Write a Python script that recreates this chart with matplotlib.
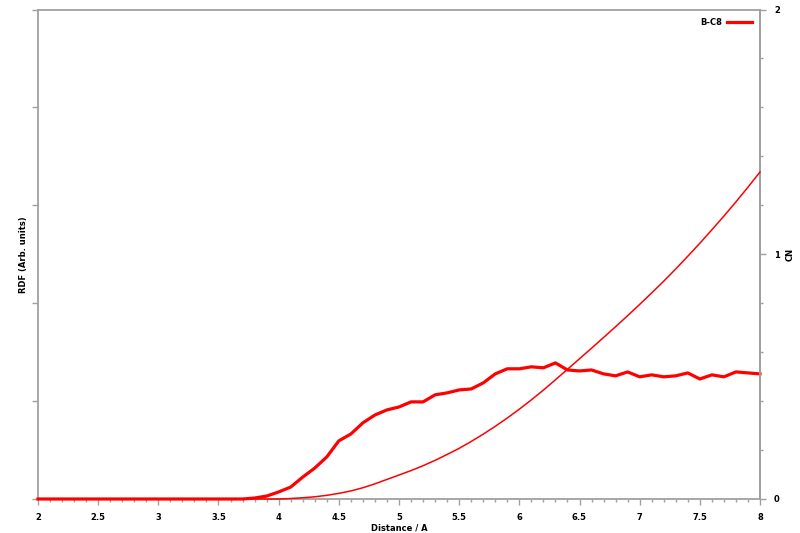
import numpy as np
import matplotlib
matplotlib.use("Agg")
import matplotlib.pyplot as plt
from matplotlib.ticker import MultipleLocator

# distance grid (A)
distance = np.linspace(2.0, 8.0, 61)

# RDF, arbitrary units (left axis)
rdf = [0.0] * 18 + [
    0.005, 0.015, 0.036, 0.061, 0.112, 0.158, 0.215, 0.297, 0.332, 0.389,
    0.429, 0.455, 0.470, 0.496, 0.496, 0.532, 0.542, 0.557, 0.562, 0.593,
    0.639, 0.665, 0.665, 0.675, 0.670, 0.695, 0.659, 0.654, 0.659, 0.639,
    0.629, 0.649, 0.624, 0.634, 0.624, 0.629, 0.644, 0.613, 0.634, 0.624,
    0.649, 0.644, 0.639,
]

# coordination number (right axis)
cn = [0.0] * 20 + [
    0.000, 0.002, 0.005, 0.009, 0.015, 0.023, 0.033, 0.046, 0.062, 0.080,
    0.098, 0.116, 0.136, 0.158, 0.182, 0.207, 0.235, 0.265, 0.297, 0.331,
    0.367, 0.405, 0.445, 0.487, 0.530, 0.573, 0.616, 0.660, 0.704, 0.749,
    0.795, 0.842, 0.890, 0.940, 0.992, 1.045, 1.100, 1.156, 1.214, 1.274,
    1.336,
]

series_label = "B-C8"
GREY = "#a0a0a0"
RED = "#ff0000"
FONT = dict(family="DejaVu Sans", fontweight="bold", fontsize=6)

fig = plt.figure(figsize=(8, 5.33), dpi=100)
ax = fig.add_axes([38 / 800, 34 / 533, 722 / 800, 489.5 / 533])
ax2 = ax.twinx()

ax.plot(distance, rdf, color=RED, lw=2.3, label=series_label, zorder=3, clip_on=False)
ax2.plot(distance, cn, color=RED, lw=1.1, zorder=3, clip_on=False)

ax.set_xlim(2, 8)
ax.set_ylim(0, 2.5)
ax2.set_ylim(0, 2)

for s in ax.spines.values():
    s.set_color(GREY)
    s.set_linewidth(1.3)
for name, s in ax2.spines.items():
    s.set_visible(name == "right")
    s.set_color(GREY)
    s.set_linewidth(1.3)

ax.xaxis.set_major_locator(MultipleLocator(0.5))
ax.xaxis.set_minor_locator(MultipleLocator(0.1))
ax.yaxis.set_major_locator(MultipleLocator(0.5))
ax.set_yticklabels([])
ax2.yaxis.set_major_locator(MultipleLocator(1))
ax2.yaxis.set_minor_locator(MultipleLocator(0.2))

ax.tick_params(axis="x", which="major", direction="out", length=4, width=1, color=GREY, pad=6)
ax.tick_params(axis="x", which="minor", direction="out", length=2.5, width=1, color=GREY)
ax.tick_params(axis="y", which="major", direction="out", length=4, width=1, color=GREY)
ax2.tick_params(axis="y", which="major", direction="out", length=4, width=1, color=GREY, pad=6)
ax2.tick_params(axis="y", which="minor", direction="out", length=2.5, width=1, color=GREY)

ax.set_xticks(np.arange(2, 8.01, 0.5))
ax.set_xticklabels(["2", "2.5", "3", "3.5", "4", "4.5", "5", "5.5", "6", "6.5", "7", "7.5", "8"], **FONT)
ax2.set_yticks([0, 1, 2])
ax2.set_yticklabels(["0", "1", "2"], **FONT)

ax.set_xlabel("Distance / A", labelpad=1, **FONT)
ax.set_ylabel("RDF (Arb. units)", labelpad=0, **FONT)
ax2.set_ylabel("CN", labelpad=4, **FONT)

leg = ax.legend(loc="upper right", frameon=False, markerfirst=False,
                prop=dict(family="DejaVu Sans", weight="bold", size=6),
                handlelength=3.0, handletextpad=0.6, borderaxespad=0.6)

fig.savefig("out.png", dpi=100)
